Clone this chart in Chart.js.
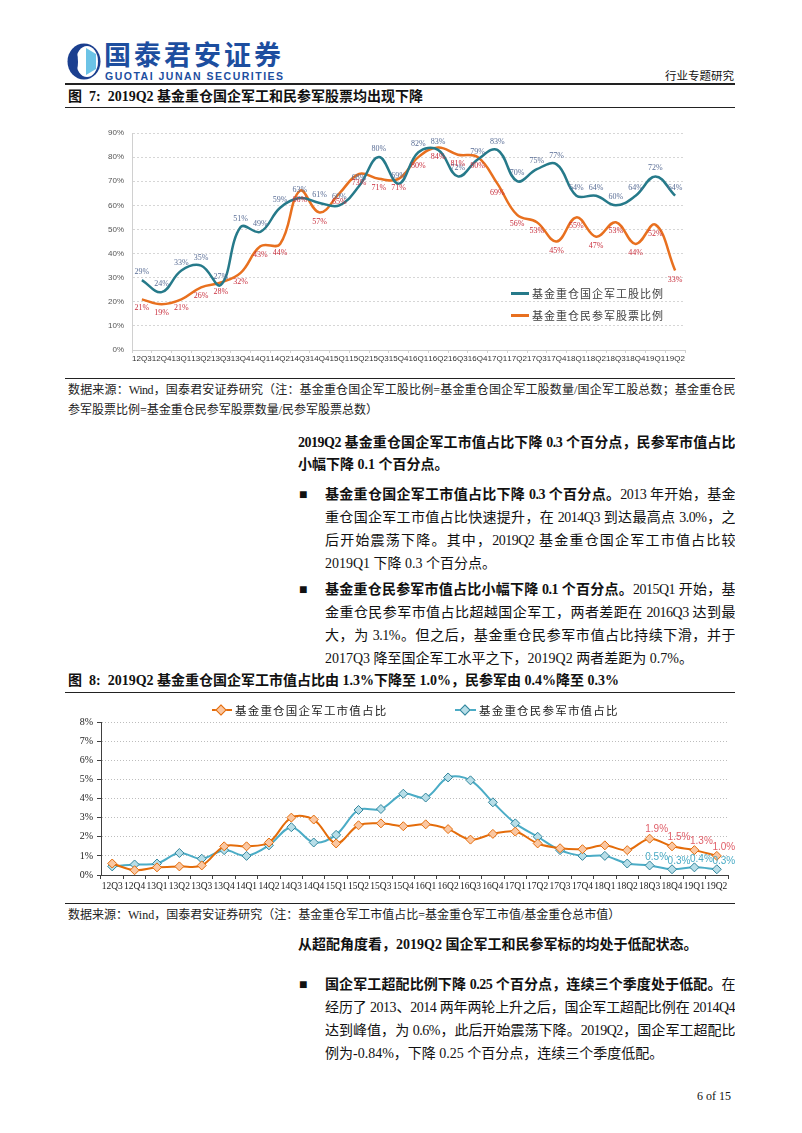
<!DOCTYPE html>
<html><head><meta charset="utf-8">
<script src="https://cdn.jsdelivr.net/npm/chart.js@4/dist/chart.umd.min.js"></script>
<style>
html,body{margin:0;padding:0;background:#fff;}
body{width:802px;height:1133px;position:relative;overflow:hidden;font-family:"Liberation Serif","Noto Sans CJK SC",serif;color:#111;}
.a{position:absolute;white-space:nowrap;}
.ln{position:absolute;height:18px;line-height:18px;white-space:nowrap;}
.j{text-align:justify;text-align-last:justify;white-space:normal;overflow:hidden;letter-spacing:-0.5px;}
.rule{position:absolute;left:65px;width:670px;background:#222;}
.b{font-weight:bold;}
.body14{font-size:14px;}
.src{font-size:12px;color:#222;}
.dia{position:absolute;width:6px;height:6px;transform:rotate(45deg);border:1px solid;}
</style></head><body>

<!-- header -->
<svg class="a" style="left:67px;top:43px" width="34" height="37" viewBox="0 0 34 37">
  <ellipse cx="17" cy="18.5" rx="16.5" ry="18" fill="#1B3F8F"/>
  <ellipse cx="20" cy="18.5" rx="11" ry="15.5" fill="#ffffff"/>
  <path d="M19 5 L29 11 L29 26 L19 32 Z" fill="#6CC3E6"/>
  <ellipse cx="8" cy="18.5" rx="3" ry="11" fill="#1B3F8F"/>
</svg>
<div class="a b" style="left:104px;top:39px;font-size:27px;line-height:30px;color:#1D4E9F;font-family:'Noto Sans CJK SC';letter-spacing:3px">国泰君安证券</div>
<div class="a b" style="left:105px;top:70px;font-size:10.5px;line-height:12px;color:#1D4E9F;font-family:'Liberation Sans';letter-spacing:1.5px">GUOTAI JUNAN SECURITIES</div>
<div class="a" style="left:665px;top:67px;font-size:11.5px;line-height:16px;font-family:'Noto Sans CJK SC'">行业专题研究</div>
<div class="rule" style="top:83px;height:1.6px"></div>

<div class="ln b body14" style="left:68px;top:88px">图&nbsp;&nbsp;7:&nbsp;&nbsp;2019Q2 基金重仓国企军工和民参军股票均出现下降</div>
<div class="rule" style="top:107px;height:1px"></div>

<!-- chart 1 -->
<div class="a" style="left:95px;top:118px;width:630px;height:255px"><canvas id="c1" width="630" height="255"></canvas></div>
<div class="a" style="left:511px;top:292px;width:18px;height:2.5px;background:#267A8A"></div>
<div class="a" style="left:532px;top:285px;font-size:11px;line-height:16px;letter-spacing:1px;color:#404040;font-family:'Noto Sans CJK SC'">基金重仓国企军工股比例</div>
<div class="a" style="left:511px;top:314px;width:18px;height:2.5px;background:#E8701F"></div>
<div class="a" style="left:532px;top:307px;font-size:11px;line-height:16px;letter-spacing:1px;color:#404040;font-family:'Noto Sans CJK SC'">基金重仓民参军股票比例</div>

<div class="rule" style="top:378px;height:1px"></div>
<div class="ln src j" style="left:68px;top:381px;width:667px">数据来源：Wind，国泰君安证券研究（注：基金重仓国企军工股比例=基金重仓国企军工股数量/国企军工股总数；基金重仓民</div>
<div class="ln src" style="left:68px;top:401px">参军股票比例=基金重仓民参军股票数量/民参军股票总数）</div>

<div class="ln b body14 j" style="left:298px;top:434px;width:437px">2019Q2 基金重仓国企军工市值占比下降 0.3 个百分点，民参军市值占比</div>
<div class="ln b body14" style="left:298px;top:456px">小幅下降 0.1 个百分点。</div>

<div class="ln body14" style="left:299px;top:486px">■</div>
<div class="ln body14 j" style="left:325px;top:486px;width:410px"><b>基金重仓国企军工市值占比下降 0.3 个百分点。</b>2013 年开始，基金</div>
<div class="ln body14 j" style="left:325px;top:509px;width:410px">重仓国企军工市值占比快速提升，在 2014Q3 到达最高点 3.0%，之</div>
<div class="ln body14 j" style="left:325px;top:532px;width:410px">后开始震荡下降。其中，2019Q2 基金重仓国企军工市值占比较</div>
<div class="ln body14" style="left:325px;top:555px">2019Q1 下降 0.3 个百分点。</div>

<div class="ln body14" style="left:299px;top:581px">■</div>
<div class="ln body14 j" style="left:325px;top:581px;width:410px"><b>基金重仓民参军市值占比小幅下降 0.1 个百分点。</b>2015Q1 开始，基</div>
<div class="ln body14 j" style="left:325px;top:604px;width:410px">金重仓民参军市值占比超越国企军工，两者差距在 2016Q3 达到最</div>
<div class="ln body14 j" style="left:325px;top:627px;width:410px">大，为 3.1%。但之后，基金重仓民参军市值占比持续下滑，并于</div>
<div class="ln body14" style="left:325px;top:650px">2017Q3 降至国企军工水平之下，2019Q2 两者差距为 0.7%。</div>

<div class="ln b body14" style="left:68px;top:672px">图&nbsp;&nbsp;8:&nbsp;&nbsp;2019Q2 基金重仓国企军工市值占比由 1.3%下降至 1.0%，民参军由 0.4%降至 0.3%</div>
<div class="rule" style="top:692px;height:1px"></div>

<!-- chart 2 -->
<div class="a" style="left:55px;top:700px;width:685px;height:197px"><canvas id="c2" width="685" height="197"></canvas></div>
<div class="a" style="left:212px;top:709px;width:20px;height:2px;background:#E46C0A"></div>
<div class="dia" style="left:217px;top:706px;background:#FAC7A2;border-color:#E46C0A"></div>
<div class="a" style="left:235px;top:702px;font-size:11.5px;line-height:16px;letter-spacing:1.2px;color:#222;font-family:'Noto Sans CJK SC'">基金重仓国企军工市值占比</div>
<div class="a" style="left:455px;top:709px;width:21px;height:2px;background:#4BACC6"></div>
<div class="dia" style="left:461px;top:706px;background:#B7DEE8;border-color:#31859C"></div>
<div class="a" style="left:479px;top:702px;font-size:11.5px;line-height:16px;letter-spacing:1.2px;color:#222;font-family:'Noto Sans CJK SC'">基金重仓民参军市值占比</div>

<div class="rule" style="top:903px;height:1px"></div>
<div class="ln src" style="left:68px;top:906px">数据来源：Wind，国泰君安证券研究（注：基金重仓军工市值占比=基金重仓军工市值/基金重仓总市值）</div>

<div class="ln b body14" style="left:298px;top:936px">从超配角度看，2019Q2 国企军工和民参军标的均处于低配状态。</div>

<div class="ln body14" style="left:299px;top:976px">■</div>
<div class="ln body14 j" style="left:325px;top:976px;width:410px"><b>国企军工超配比例下降 0.25 个百分点，连续三个季度处于低配。</b>在</div>
<div class="ln body14 j" style="left:325px;top:999px;width:410px">经历了 2013、2014 两年两轮上升之后，国企军工超配比例在 2014Q4</div>
<div class="ln body14 j" style="left:325px;top:1022px;width:410px">达到峰值，为 0.6%，此后开始震荡下降。2019Q2，国企军工超配比</div>
<div class="ln body14" style="left:325px;top:1045px">例为-0.84%，下降 0.25 个百分点，连续三个季度低配。</div>

<div class="ln" style="left:697px;top:1087px;font-size:12px">6 of 15</div>

<script>
// ---------- data ----------
const quarters = ['12Q3','12Q4','13Q1','13Q2','13Q3','13Q4','14Q1','14Q2','14Q3','14Q4','15Q1','15Q2','15Q3','15Q4','16Q1','16Q2','16Q3','16Q4','17Q1','17Q2','17Q3','17Q4','18Q1','18Q2','18Q3','18Q4','19Q1','19Q2'];
const soeStockRatio = [29,24,33,35,27,51,49,59,63,61,60,68,80,69,82,83,72,79,83,70,75,77,64,64,60,64,72,64];
const privStockRatio = [21,19,21,26,28,32,43,44,66,57,65,73,71,71,80,84,81,80,69,56,53,45,55,47,53,44,52,33];
const soeMktShare = [0.6,0.25,0.4,0.45,0.5,1.5,1.5,1.7,3.0,2.9,1.65,2.6,2.7,2.55,2.65,2.4,1.85,2.15,2.27,1.65,1.4,1.35,1.55,1.3,1.9,1.5,1.3,1.0];
const privMktShare = [0.45,0.55,0.6,1.15,0.85,1.3,1.0,1.55,2.5,1.7,2.1,3.4,3.45,4.25,4.05,5.1,4.95,3.8,2.7,2.0,1.3,1.0,1.0,0.6,0.5,0.3,0.4,0.3];
const chart1YTicks = [0,10,20,30,40,50,60,70,80,90];
const chart2YTicks = [0,1,2,3,4,5,6,7,8];

// ---------- value label plugin ----------
const valueLabels = {
  id: 'valueLabels',
  afterDatasetsDraw(chart) {
    const ctx = chart.ctx;
    chart.data.datasets.forEach((ds, i) => {
      const cfg = ds.valueLabel; if (!cfg) return;
      const meta = chart.getDatasetMeta(i);
      ctx.save();
      ctx.font = cfg.font; ctx.fillStyle = cfg.color;
      ctx.textAlign = 'center'; ctx.textBaseline = 'middle';
      meta.data.forEach((pt, j) => {
        if (cfg.from != null && j < cfg.from) return;
        ctx.fillText(cfg.format(ds.data[j]), pt.x + cfg.dx, pt.y + cfg.dy);
      });
      ctx.restore();
    });
  }
};

// ---------- chart 1 ----------
new Chart(document.getElementById('c1'), {
  type: 'line',
  data: {
    labels: quarters,
    datasets: [
      { label: '基金重仓国企军工股比例', data: soeStockRatio, borderColor: '#267A8A', borderWidth: 2.5, pointRadius: 0, tension: 0.4, fill: false,
        valueLabel: { font: '8px "Liberation Serif"', color: '#5A6E96', dx: 0, dy: -8, format: v => v + '%' } },
      { label: '基金重仓民参军股票比例', data: privStockRatio, borderColor: '#E8701F', borderWidth: 2.5, pointRadius: 0, tension: 0.4, fill: false,
        valueLabel: { font: '8px "Liberation Serif"', color: '#C9303E', dx: 0, dy: 9, format: v => v + '%' } }
    ]
  },
  options: {
    responsive: false, animation: false, events: [],
    layout: { padding: { left: 0, right: 40, top: 15, bottom: 3 } },
    plugins: { legend: { display: false }, tooltip: { enabled: false } },
    scales: {
      x: {
        offset: true,
        grid: { display: true, drawOnChartArea: false, drawTicks: true, tickLength: 3, color: '#d0d0d0', offset: true },
        border: { color: '#cfcfcf' },
        ticks: { autoSkip: false, maxRotation: 0, minRotation: 0, padding: 1, color: '#333', font: { family: 'Liberation Sans', size: 8 } },
        afterFit: s => { s.height = 20; }
      },
      y: {
        min: 0, max: 90,
        afterBuildTicks: s => { s.ticks = chart1YTicks.map(v => ({ value: v })); },
        grid: { color: '#d6d6d6', drawTicks: false },
        border: { color: '#d0d0d0', dash: [2, 2] },
        ticks: { padding: 8, color: '#555', font: { family: 'Liberation Sans', size: 8 }, callback: v => v + '%' },
        afterFit: s => { s.width = 37; }
      }
    }
  },
  plugins: [valueLabels]
});

// ---------- chart 2 ----------
new Chart(document.getElementById('c2'), {
  type: 'line',
  data: {
    labels: quarters,
    datasets: [
      { label: '基金重仓国企军工市值占比', data: soeMktShare, borderColor: '#E46C0A', borderWidth: 2, tension: 0.35, fill: false,
        pointStyle: 'rectRot', pointRadius: 4.5, pointBackgroundColor: '#FAC7A2', pointBorderColor: '#E46C0A', pointBorderWidth: 1,
        valueLabel: { from: 24, font: '10px "Liberation Sans"', color: '#E0606A', dx: 7, dy: -9, format: v => v.toFixed(1) + '%' } },
      { label: '基金重仓民参军市值占比', data: privMktShare, borderColor: '#4BACC6', borderWidth: 2, tension: 0.35, fill: false,
        pointStyle: 'rectRot', pointRadius: 4.5, pointBackgroundColor: '#B7DEE8', pointBorderColor: '#31859C', pointBorderWidth: 1,
        valueLabel: { from: 24, font: '10px "Liberation Sans"', color: '#4BACC6', dx: 7, dy: -8, format: v => v.toFixed(1) + '%' } }
    ]
  },
  options: {
    responsive: false, animation: false, events: [],
    layout: { padding: { left: 0, right: 12, top: 22, bottom: 2 } },
    plugins: { legend: { display: false }, tooltip: { enabled: false } },
    scales: {
      x: {
        offset: true,
        grid: { display: true, drawOnChartArea: false, drawTicks: true, tickLength: 4, color: '#404040', offset: true },
        border: { color: '#404040' },
        ticks: { autoSkip: false, maxRotation: 0, minRotation: 0, padding: 2, color: '#222', font: { family: 'Liberation Serif', size: 9.5 } },
        afterFit: s => { s.height = 20; }
      },
      y: {
        min: 0, max: 8,
        afterBuildTicks: s => { s.ticks = chart2YTicks.map(v => ({ value: v })); },
        grid: { color: '#bdbdbd', drawTicks: true, tickLength: 4, tickColor: '#404040' },
        border: { color: '#404040', dash: [1, 2] },
        ticks: { padding: 4, color: '#222', font: { family: 'Liberation Serif', size: 10 }, callback: v => v + '%' },
        afterFit: s => { s.width = 46; }
      }
    }
  },
  plugins: [valueLabels]
});
</script>
</body></html>
